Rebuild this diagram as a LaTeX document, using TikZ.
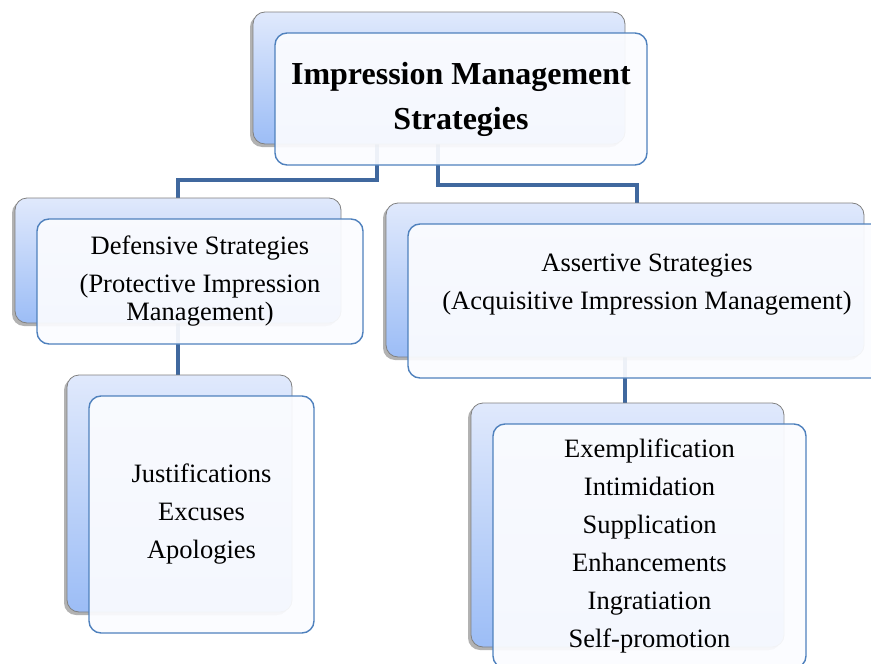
\documentclass[tikz,border=0pt]{standalone}
\usepackage{fontspec}
\setmainfont{Liberation Serif}
\usetikzlibrary{shadows,backgrounds}
\definecolor{boxblue}{RGB}{79,129,189}
\definecolor{linkblue}{RGB}{64,104,158}
\definecolor{backtop}{RGB}{224,233,252}
\definecolor{backbot}{RGB}{156,189,246}
\definecolor{frontfill}{RGB}{251,252,255}

\begin{document}
\begin{tikzpicture}[x=1pt,y=1pt,line cap=round,line join=round,
  card/.style={draw=boxblue,line width=1.4pt,rounded corners=12pt,fill=frontfill,fill opacity=0.93,text opacity=1,
    inner sep=0pt,align=center,font=\fontsize{26.5}{38}\selectfont,
    general shadow={shadow xshift=-25pt,shadow yshift=18pt,fill=black,fill opacity=0.3,draw=none},
    general shadow={shadow xshift=-22pt,shadow yshift=21pt,fill opacity=1,draw=gray,line width=0.8pt,top color=backtop,bottom color=backbot}},
  link/.style={draw=linkblue,line width=4.5pt,line cap=butt,line join=miter}]
\useasboundingbox (0,0) rectangle (871,-664);
\clip (0,0) rectangle (871,-664);
\node[card,minimum width=372pt,minimum height=132pt,font=\bfseries\fontsize{32}{45}\selectfont] (ims) at (461,-99) {Impression Management\\Strategies};
\node[card,minimum width=326pt,minimum height=125pt] (def) at (200,-281.5) {Defensive Strategies\\(Protective Impression\\[-10pt]Management)};
\node[card,minimum width=478pt,minimum height=154pt] (asrt) at (647,-301) {Assertive Strategies\\(Acquisitive Impression Management)\\\mbox{}};
\node[card,minimum width=225pt,minimum height=237pt] (just) at (201.5,-514.5) {Justifications\\Excuses\\Apologies};
\node[card,minimum width=313pt,minimum height=244pt] (self) at (649.5,-546) {Exemplification\\Intimidation\\Supplication\\Enhancements\\Ingratiation\\Self-promotion};
\begin{scope}[on background layer]
\draw[link] ([xshift=-84pt]ims.center) -- ++(0,-81) -| ([xshift=-22pt]def.center);
\draw[link] ([xshift=-23pt]ims.center) -- ++(0,-86) -| ([xshift=-10pt]asrt.center);
\draw[link] ([xshift=-22pt]def.center) -- ([xshift=-23.5pt]just.center);
\draw[link] ([xshift=-22pt]asrt.center) -- ([xshift=-24.5pt]self.center);
\end{scope}
\end{tikzpicture}
\end{document}
